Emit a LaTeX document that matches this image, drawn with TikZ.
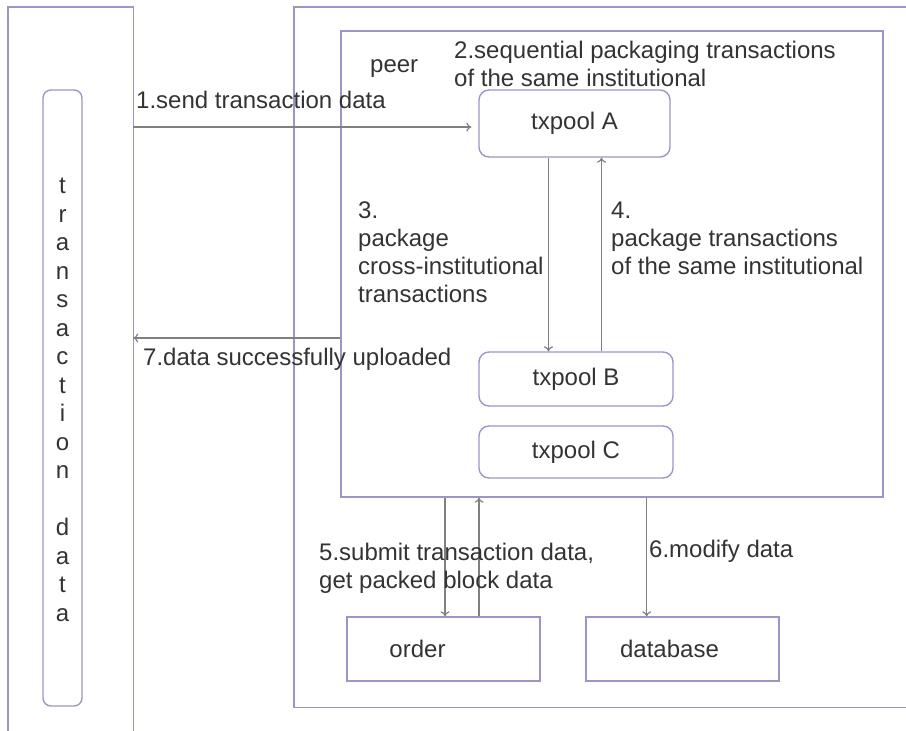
\documentclass[tikz,border=0pt]{standalone}
\usepackage{fontspec}
\setmainfont{Liberation Sans}
\usetikzlibrary{arrows.meta}
\definecolor{frame}{HTML}{9A96C8}
\definecolor{wire}{HTML}{808080}
\definecolor{ink}{HTML}{333333}
% left-aligned block of lines whose baseline is the first line
\newcommand\stack[1]{\begin{tabular}[t]{@{}l@{}}#1\end{tabular}}

\begin{document}
\begin{tikzpicture}[x=1pt,y=-1pt,
  every node/.style={font=\fontsize{24}{28}\selectfont, text=ink},
  frm/.style={draw=frame, line width=1.4pt, inner sep=0pt},
  pool/.style={frm, rounded corners=10pt, minimum width=194pt, minimum height=54pt},
  store/.style={frm, minimum width=193pt, minimum height=64pt},
  arr/.style={draw=wire, line width=1.2pt, -{To[length=5pt,width=9pt]}},
  txt/.style={anchor=base west, inner sep=0pt}]
\useasboundingbox (0,0) rectangle (906,731);

% client column
\node[inner sep=0pt, minimum width=125pt, minimum height=760pt] (client) at (70.5,387) {};
\draw[frm] (client.south west) |- (client.north east) -- (client.south east);
\node[frm, rounded corners=8pt, minimum width=39pt, minimum height=616pt] (vbar) at (62.5,398) {};
\node[inner sep=0pt, font=\fontsize{24}{28.5}\selectfont] (vtext) at (62.5,401.8)
  {\begin{tabular}{@{}c@{}}t\\r\\a\\n\\s\\a\\c\\t\\i\\o\\n\\ \\d\\a\\t\\a\end{tabular}};

% server side
\node[inner sep=0pt, minimum width=640pt, minimum height=700pt] (site) at (614,357) {};
\draw[frm] (site.north east) -| (site.south west) -- (site.south east);
\node[frm, minimum width=542pt, minimum height=466pt] (peer) at (612,264) {};

\node[pool, minimum width=191pt, minimum height=67pt] (A) at (574.5,123.5) {txpool A};
\node[pool] (B) at (576,379) {txpool B};
\node[pool, minimum height=52pt] (C) at (576,452) {txpool C};

\node[store, label={[xshift=-26pt]center:order}] (order) at (443.5,649) {};
\node[store, label={[xshift=-13pt]center:database}] (db) at (682.5,649) {};

% connectors
\draw[arr] ([yshift=-3.5pt]A.west -| client.east) -- ([xshift=-7pt,yshift=-3.5pt]A.west);
\draw[arr] ([xshift=-26pt]A.south) -- ([xshift=-27.5pt]B.north);
\draw[arr] ([xshift=25.5pt]B.north) -- ([xshift=27pt]A.south);
\draw[arr] ([yshift=-74pt]peer.west) -- ([yshift=-74pt]peer.west -| client.east);
\draw[arr] ([xshift=-167pt]peer.south) -- ([xshift=1.5pt]order.north);
\draw[arr] ([xshift=35.5pt]order.north) -- ([xshift=-133pt]peer.south);
\draw[arr] ([xshift=34.7pt]peer.south) -- ([xshift=-35.8pt]db.north);

% labels
\node[txt] (lpeer) at (370,72) {peer};
\node[txt] (l1) at (136,108) {1.send transaction data};
\node[txt] (l2) at (454,58) {\stack{2.sequential packaging transactions\\of the same institutional}};
\node[txt] (l3) at (358,218) {\stack{3.\\package\\cross-institutional\\transactions}};
\node[txt] (l4) at (611,218) {\stack{4.\\package transactions\\of the same institutional}};
\node[txt] (l7) at (143,365) {7.data successfully uploaded};
\node[txt] (l5) at (319,560) {\stack{5.submit transaction data,\\get packed block data}};
\node[txt] (l6) at (649,557) {6.modify data};
\end{tikzpicture}
\end{document}
